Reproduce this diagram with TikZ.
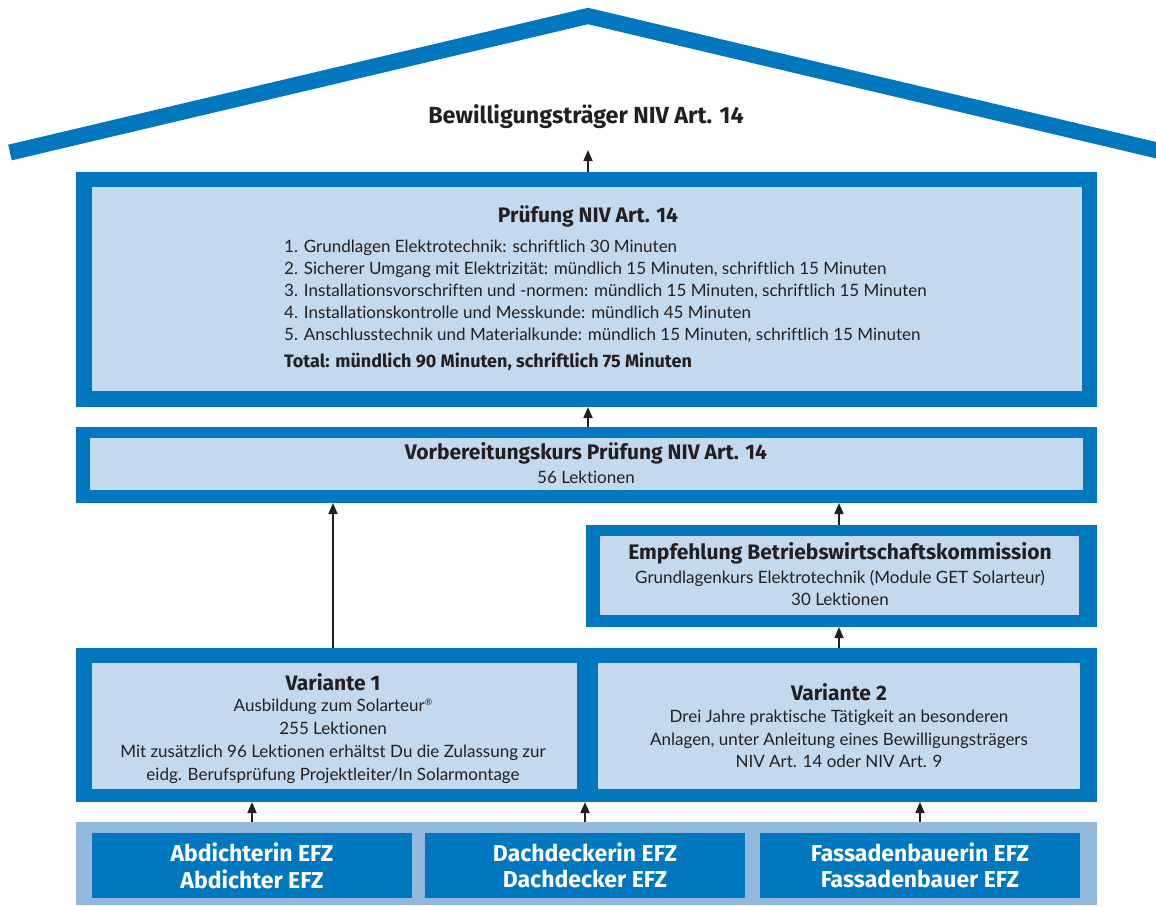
\documentclass[tikz,border=0pt]{standalone}
\usepackage{fontspec}
\setmainfont{Lato}[Ligatures={NoCommon}]
\newfontfamily\ttlfont{Fira Sans}
\usetikzlibrary{arrows.meta}
\definecolor{dblue}{RGB}{0,119,190}
\definecolor{lblue}{RGB}{197,217,238}
\definecolor{sblue}{RGB}{146,184,222}
\definecolor{txt}{RGB}{35,31,32}
\begin{document}
\begin{tikzpicture}[x=1pt,y=-1pt,
  outerbox/.style={fill=dblue, draw=none, inner sep=0pt, outer sep=0pt, anchor=north west},
  innerbox/.style={fill=lblue, draw=none, inner sep=0pt, outer sep=0pt, anchor=north west},
  stripbox/.style={fill=sblue, draw=none, inner sep=0pt, outer sep=0pt, anchor=north west},
  ttl/.style={text=txt, inner sep=0pt, font=\ttlfont\bfseries\fontsize{21}{24}\selectfont},
  body/.style={text=txt, inner sep=0pt, text height=12pt, text depth=3.5pt, yshift=-1.5pt, font=\fontsize{17}{22}\selectfont},
  listline/.style={text=txt, inner sep=0pt, font=\fontsize{17}{22}\selectfont, anchor=mid west},
  wtxt/.style={text=white, inner sep=0pt, font=\ttlfont\bfseries\fontsize{23}{26}\selectfont},
  arr/.style={draw=txt, line width=1.7pt, -{Triangle[length=11pt,width=9pt]}},
  roof/.style={draw=dblue, line width=16pt, line join=miter, line cap=butt}
]
\clip (0,0) rectangle (1156,906);
\fill[white] (0,0) rectangle (1156,906);

% roof
\draw[roof] (10,152.5) -- (588,16) -- (1166,152.5);
\node[ttl, font=\ttlfont\bfseries\fontsize{23.3}{26}\selectfont] (roofttl) at (586,117) {Bewilligungsträger NIV Art. 14};
\coordinate (roofpt) at (588,150);

% Pruefung box
\node[outerbox, minimum width=1021pt, minimum height=235pt] (pruef) at (76,172) {};
\node[innerbox, minimum width=990pt, minimum height=204pt] (pruefin) at (92,187) {};
\node[ttl] (pruefttl) at (588,216) {Prüfung NIV Art. 14};
\node[listline] (l1) at (284,249.5) {1. Grundlagen Elektrotechnik: schriftlich 30 Minuten};
\node[listline] (l2) at (284,271.5) {2. Sicherer Umgang mit Elektrizität: mündlich 15 Minuten, schriftlich 15 Minuten};
\node[listline] (l3) at (284,293.5) {3. Installationsvorschriften und -normen: mündlich 15 Minuten, schriftlich 15 Minuten};
\node[listline] (l4) at (284,315.5) {4. Installationskontrolle und Messkunde: mündlich 45 Minuten};
\node[listline] (l5) at (284,337.5) {5. Anschlusstechnik und Materialkunde: mündlich 15 Minuten, schriftlich 15 Minuten};
\node[listline, font=\ttlfont\bfseries\fontsize{18}{22}\selectfont] (l6) at (284,365) {Total: mündlich 90 Minuten, schriftlich 75 Minuten};

% Vorbereitung box
\node[outerbox, minimum width=1021pt, minimum height=76pt] (vorb) at (76,427) {};
\node[innerbox, minimum width=993pt, minimum height=52pt] (vorbin) at (90,438) {};
\node[ttl] (vorbttl) at (586,453) {Vorbereitungskurs Prüfung NIV Art. 14};
\node[body] (vorbl) at (586,478) {56 Lektionen};

% Empfehlung box
\node[outerbox, minimum width=511pt, minimum height=102pt] (empf) at (586,525) {};
\node[innerbox, minimum width=479pt, minimum height=79pt] (empfin) at (600,536) {};
\node[ttl] (empfttl) at (840,553) {Empfehlung Betriebswirtschaftskommission};
\node[body] (empfl1) at (840,578) {Grundlagenkurs Elektrotechnik (Module GET Solarteur)};
\node[body] (empfl2) at (840,600) {30 Lektionen};

% Variant box
\node[outerbox, minimum width=1021pt, minimum height=154pt] (var) at (76,648) {};
\node[innerbox, minimum width=485pt, minimum height=126pt] (v1in) at (92,663) {};
\node[innerbox, minimum width=482pt, minimum height=126pt] (v2in) at (598,663) {};
\node[ttl] (v1ttl) at (333,682) {Variante 1};
\node[body] (v1a) at (333,706) {Ausbildung zum Solarteur\raisebox{0.75ex}{\fontsize{9}{9}\selectfont ®}};
\node[body] (v1b) at (333,729) {255 Lektionen};
\node[body] (v1c) at (333,752) {Mit zusätzlich 96 Lektionen erhältst Du die Zulassung zur};
\node[body] (v1d) at (333,775) {eidg. Berufsprüfung Projektleiter/In Solarmontage};
\node[ttl] (v2ttl) at (839,692) {Variante 2};
\node[body] (v2a) at (839,717) {Drei Jahre praktische Tätigkeit an besonderen};
\node[body] (v2b) at (839,740) {Anlagen, unter Anleitung eines Bewilligungsträgers};
\node[body] (v2c) at (839,762) {NIV Art. 14 oder NIV Art. 9};

% bottom strip
\node[stripbox, minimum width=1021pt, minimum height=83pt] (strip) at (76,822) {};
\node[outerbox, minimum width=320pt, minimum height=65pt] (abd) at (92,833) {};
\node[outerbox, minimum width=320pt, minimum height=65pt] (dach) at (425,833) {};
\node[outerbox, minimum width=320pt, minimum height=65pt] (fass) at (760,833) {};
\node[wtxt] (abd1) at (abd.center) [yshift=13.5pt] {Abdichterin EFZ};
\node[wtxt] (abd2) at (abd.center) [yshift=-13.5pt] {Abdichter EFZ};
\node[wtxt] (dach1) at (dach.center) [yshift=13.5pt] {Dachdeckerin EFZ};
\node[wtxt] (dach2) at (dach.center) [yshift=-13.5pt] {Dachdecker EFZ};
\node[wtxt] (fass1) at (fass.center) [yshift=13.5pt] {Fassadenbauerin EFZ};
\node[wtxt] (fass2) at (fass.center) [yshift=-13.5pt] {Fassadenbauer EFZ};

% arrows
\draw[arr] (pruef.north -| roofpt) -- (roofpt);
\draw[arr] (vorb.north -| roofpt) -- (pruef.south -| roofpt);
\draw[arr] (var.north -| v1ttl) -- (vorb.south -| v1ttl);
\draw[arr] (empf.north -| v2ttl) -- (vorb.south -| v2ttl);
\draw[arr] (var.north -| v2ttl) -- (empf.south -| v2ttl);
\draw[arr] (strip.north -| abd) -- (var.south -| abd);
\draw[arr] (strip.north -| dach) -- (var.south -| dach);
\draw[arr] (strip.north -| fass) -- (var.south -| fass);
\end{tikzpicture}
\end{document}
